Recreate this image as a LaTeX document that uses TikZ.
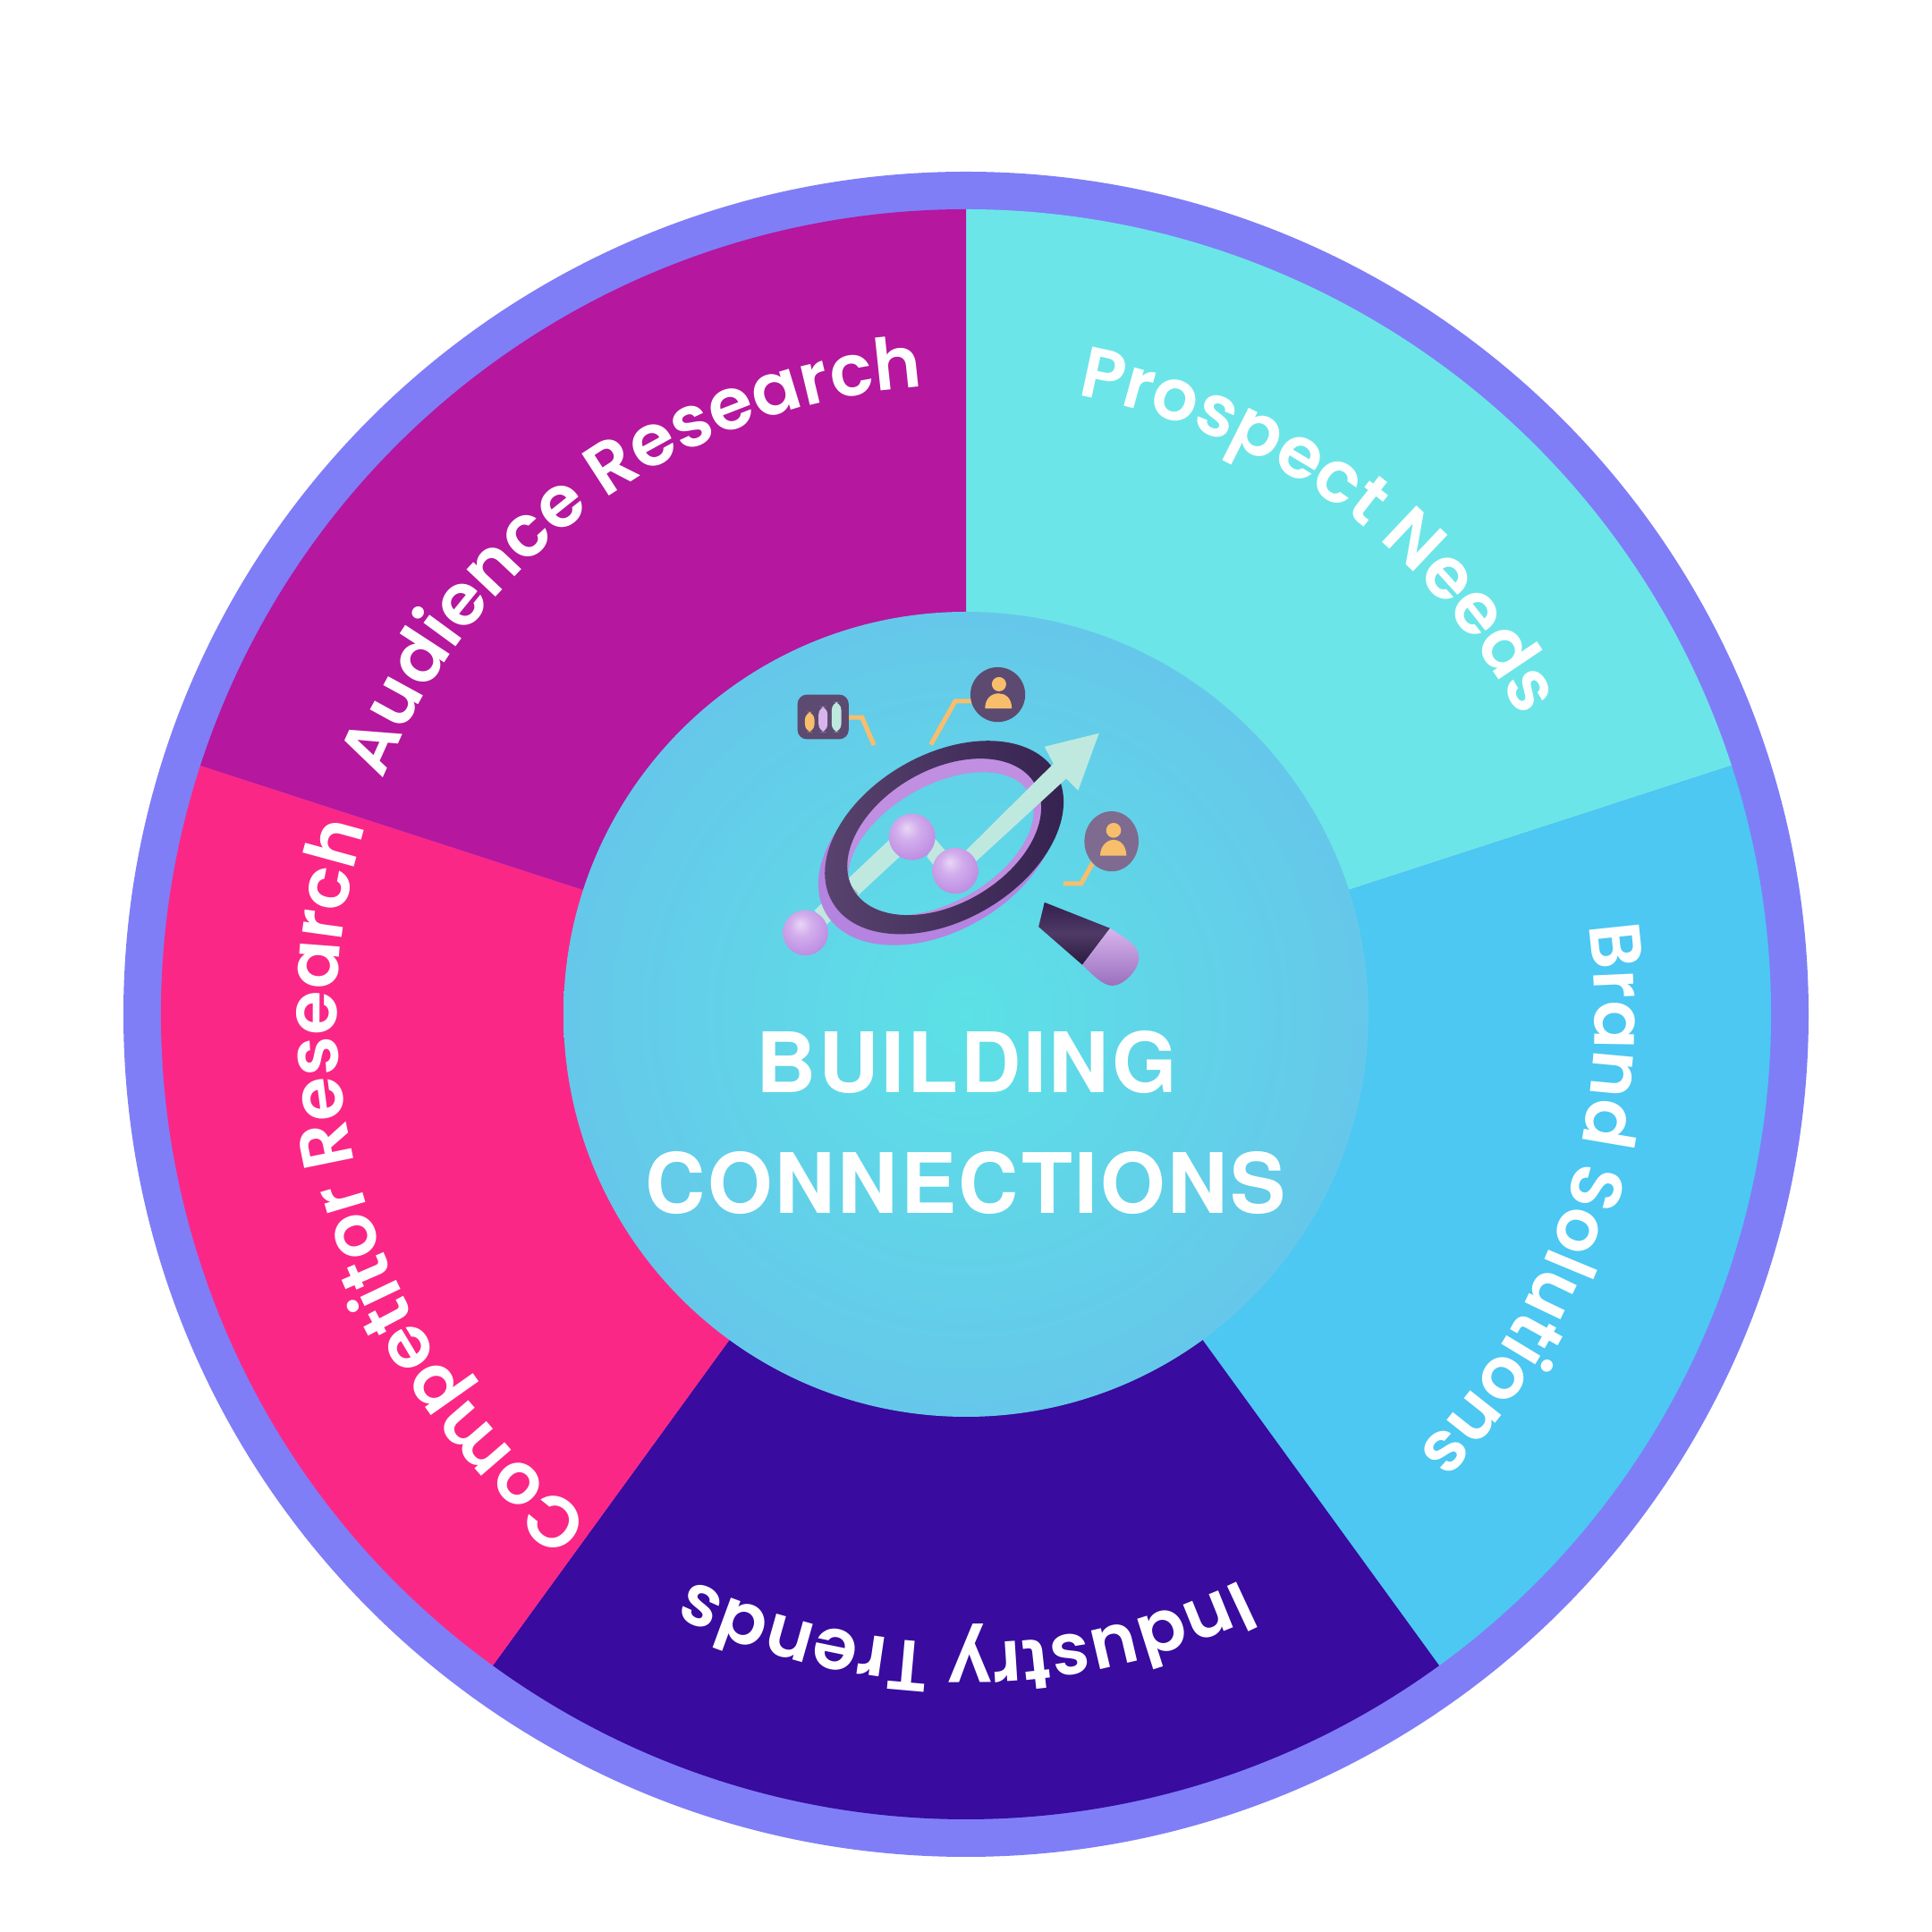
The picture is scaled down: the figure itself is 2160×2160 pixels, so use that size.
\documentclass[tikz,border=0pt]{standalone}
\usepackage{fontspec}
\usetikzlibrary{decorations.text}
\newfontfamily\popfont{Poppins SemiBold}
\newfontfamily\headfont{TeX Gyre Heros}[BoldFont=* Bold,LetterSpace=3]
\definecolor{ringc}{HTML}{7F7EF7}
\definecolor{prosp}{HTML}{6CE5E8}
\definecolor{aud}{HTML}{B5179E}
\definecolor{comp}{HTML}{FB2787}
\definecolor{indus}{HTML}{390B9F}
\definecolor{brand}{HTML}{4CC8F2}
\definecolor{midin}{HTML}{5CE1E6}
\definecolor{midout}{HTML}{6FAEEE}
\definecolor{orangeL}{HTML}{F7BE6C}
\definecolor{mint}{HTML}{BFE9DF}
\definecolor{mintd}{HTML}{8FC3C2}
\definecolor{rim}{HTML}{B583E0}
\definecolor{rimwall}{HTML}{C08FE2}
\definecolor{lilac}{HTML}{D8B4EC}
\definecolor{darkA}{HTML}{5A4570}
\definecolor{darkB}{HTML}{34204E}
\definecolor{iconA}{HTML}{5C4A70}
\definecolor{iconB}{HTML}{7F6B8F}
\definecolor{ballA}{HTML}{E9D6F6}
\definecolor{ballB}{HTML}{D2AEEC}
\definecolor{ballC}{HTML}{BC8AE2}
\definecolor{ballD}{HTML}{A873D8}
\definecolor{ballE}{HTML}{6B3AA8}
\pgfdeclareradialshading{midshade}{\pgfpoint{0bp}{0bp}}{color(0bp)=(midin); color(50bp)=(midout)}
\pgfdeclareradialshading{ballshade}{\pgfpoint{-6bp}{10bp}}{color(0bp)=(ballA); color(12bp)=(ballB); color(32bp)=(ballC); color(46bp)=(ballD); color(62bp)=(ballE)}
\tikzset{
  wedge/.style={draw=none},
  curved label/.style={postaction={decorate},decoration={text along path,text align=center,text={|\popfont\fontsize{22.8pt}{26pt}\selectfont\color{white}|#1}}},
  title/.style={text=white,font=\headfont\bfseries\fontsize{26.5pt}{30pt}\selectfont,inner sep=0pt,anchor=center},
  orange link/.style={draw=orangeL,line width=1.45pt,line join=miter},
  ball/.style={shading=ballshade}
}
\newcommand{\wedgepie}[3]{\fill[#3] (0,0) -- (#1:900) arc[start angle=#1,end angle=#2,radius=900] -- cycle;}
\newcommand{\curved}[2]{\path[curved label={#2}] (#1+52:703) arc[start angle=#1+52,end angle=#1-52,radius=703];}
\begin{document}
\begin{tikzpicture}[x=0.01cm,y=0.01cm]
\useasboundingbox (0,0) rectangle (2160,2160);
\fill[white] (0,0) rectangle (2160,2160);
\begin{scope}[shift={(1080,1026)}]
  \fill[ringc] (0,0) circle[radius=942];
  \wedgepie{90}{18}{prosp}
  \wedgepie{18}{-54}{brand}
  \wedgepie{-54}{-126}{indus}
  \wedgepie{-126}{-198}{comp}
  \wedgepie{162}{90}{aud}
  \shade[shading=midshade] (0,0) circle[radius=450];
  \curved{126}{Audience Research}
  \curved{54}{Prospect Needs}
  \curved{-18}{Brand Solutions}
  \curved{-90}{Industry Trends}
  \curved{-162}{Competitor Research}
\end{scope}
\node[title] (t1) at (1081,972) {BUILDING};
\node[title] (t2) at (1080,837) {CONNECTIONS};
\begin{scope}[shift={(840,1440)},x=0.003333cm,y=-0.003333cm]
  % links
  \draw[orange link] (327,247) -- (372,247) -- (412,340);
  \draw[orange link] (603,338) -- (685,192) -- (745,192);
  \draw[orange link] (1048,805) -- (1108,805) -- (1150,730);
  % chart card
  \fill[iconA,rounded corners=3pt] (155,170) rectangle (327,320);
  \fill[orangeL,rounded corners=2.5pt] (180,228) rectangle (212,296);
  \fill[lilac,rounded corners=2.5pt] (226,210) rectangle (256,296);
  \fill[mint,rounded corners=2.5pt] (270,195) rectangle (302,296);
  % users
  \fill[iconA] (828,170) circle[radius=92];
  \fill[orangeL] (832,135) circle[radius=24];
  \fill[orangeL] (785,217) .. controls (785,180) and (810,166) .. (830,166) .. controls (852,166) and (875,180) .. (875,217) -- cycle;
  \fill[iconB] (1210,663) ellipse[x radius=91,y radius=101];
  \fill[orangeL] (1217,626) circle[radius=25];
  \fill[orangeL] (1172,711) .. controls (1172,678) and (1195,658) .. (1217,658) .. controls (1240,658) and (1260,678) .. (1260,711) -- cycle;
  % shaft behind lens
  \fill[mint] (212,895) -- (472,650) -- (498,715) -- (250,945) -- cycle;
  \fill[mintd] (318,795) -- (360,838) -- (325,875) -- (296,835) -- cycle;
  \fill[mint] (618,655) -- (652,695) -- (625,760) -- (590,715) -- cycle;
  % handle
  \shade[top color=darkB,bottom color=darkB!80!black,middle color=darkA!70!darkB] (985,868) -- (1205,955) -- (1112,1078) -- (965,950) -- cycle;
  \shade[top color=lilac,bottom color=rim!85!black] (1205,955) .. controls (1250,985) and (1300,1010) .. (1302,1050) .. controls (1304,1095) and (1250,1148) .. (1212,1148) .. controls (1180,1148) and (1140,1105) .. (1112,1078) -- cycle;
  % lens
  \fill[rim,even odd rule] (626,687) ellipse[x radius=434,y radius=279,rotate=30] (637,671) ellipse[x radius=342,y radius=196,rotate=30];
  \fill[rimwall,even odd rule] (648,648) ellipse[x radius=353,y radius=225,rotate=30] (637,671) ellipse[x radius=342,y radius=196,rotate=30];
  \shade[left color=darkA,right color=darkB,even odd rule] (648,650) ellipse[x radius=434,y radius=279,rotate=30] (648,648) ellipse[x radius=353,y radius=225,rotate=30];
  % arrow in front
  \fill[mint] (720,695) -- (1015,402) -- (985,345) -- (1168,300) -- (1098,492) -- (1058,452) -- (750,735) -- cycle;
  % balls
  \shade[ball] (182,970) circle[radius=76];
  \shade[ball] (540,648) circle[radius=78];
  \shade[ball] (685,762) circle[radius=77];
\end{scope}
\end{tikzpicture}
\end{document}
